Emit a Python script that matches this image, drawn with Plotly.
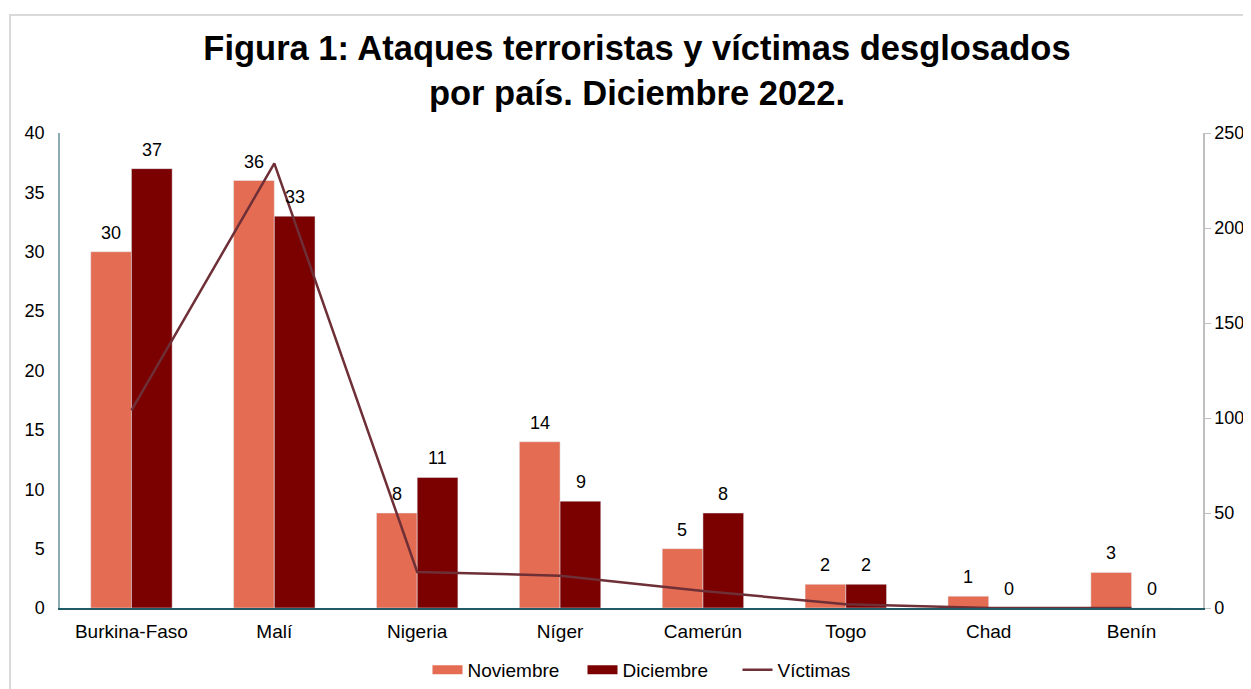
import plotly.graph_objects as go

paises = ["Burkina-Faso", "Malí", "Nigeria", "Níger", "Camerún", "Togo", "Chad", "Benín"]
noviembre = [30, 36, 8, 14, 5, 2, 1, 3]
diciembre = [37, 33, 11, 9, 8, 2, 0, 0]
victimas = [104, 234, 19, 17, 9, 2, 0, 0]

# page has an 8px body margin; figure size compensates
OFF = 8
W, H = 1251 - OFF, 689 - OFF
L, R, T, B = 60 - OFF, 48, 133 - OFF, 81
pw, ph = W - L - R, H - T - B

def px(x):
    return (x - OFF - L) / pw

def py(y):
    return (H - B - (y - OFF)) / ph

font = "Liberation Sans, Arial, sans-serif"
c_nov, c_dic, c_vic = "#E46C52", "#7B0000", "#6E2F36"

fig = go.Figure()
fig.add_trace(go.Bar(x=paises, y=noviembre, name="Noviembre", marker_color=c_nov,
                     showlegend=False))
fig.add_trace(go.Bar(x=paises, y=diciembre, name="Diciembre", marker_color=c_dic,
                     showlegend=False))
fig.add_trace(go.Scatter(x=paises, y=victimas, name="Víctimas", mode="lines", yaxis="y2",
                         line=dict(color=c_vic, width=2.5), cliponaxis=False,
                         showlegend=False))
# legend entries
for nm, col, wd in [("Noviembre", c_nov, 9), ("Diciembre", c_dic, 9), ("Víctimas", c_vic, 2.5)]:
    fig.add_trace(go.Scatter(x=[None], y=[None], name=nm, mode="lines",
                             line=dict(color=col, width=wd)))

annotations = []
for serie, dx in [(noviembre, -20.5), (diciembre, 20.5)]:
    for p, v in zip(paises, serie):
        annotations.append(dict(x=p, y=v, xref="x", yref="y", text=str(v), showarrow=False,
                                xshift=dx, yshift=7, yanchor="bottom",
                                font=dict(size=18, color="#000000")))

fig.update_layout(
    width=W, height=H,
    margin=dict(l=L, r=R, t=T, b=B, autoexpand=False),
    paper_bgcolor="white", plot_bgcolor="white",
    font=dict(family=font, size=18, color="#000000"),
    barmode="group", bargap=0.43, bargroupgap=0,
    title=dict(
        text="<b>Figura 1: Ataques terroristas y víctimas desglosados<br>por país. Diciembre 2022.</b>",
        x=px(637), xref="paper", xanchor="center",
        y=1 - (60 - OFF) / H, yref="container", yanchor="middle",
        font=dict(family=font, size=34.5, color="#000000"),
    ),
    xaxis=dict(
        showline=True, linecolor="#1F5C66", linewidth=2, ticks="",
        tickfont=dict(size=19), showgrid=False, ticklabelstandoff=5,
    ),
    yaxis=dict(
        range=[0, 40], dtick=5, showline=True, linecolor="#8FAAB4", linewidth=1.5,
        showgrid=False, zeroline=False, ticks="", tickfont=dict(size=18),
        ticklabelstandoff=10,
    ),
    yaxis2=dict(
        range=[0, 250], dtick=50, overlaying="y", side="right", showline=True,
        linecolor="#BFBFBF", linewidth=1.5, showgrid=False, zeroline=False,
        ticks="outside", ticklen=6, tickcolor="#BFBFBF", tickfont=dict(size=18),
    ),
    legend=dict(
        orientation="h", x=px(660), xanchor="center", y=py(670), yanchor="middle",
        font=dict(size=19), traceorder="normal", entrywidth=110, entrywidthmode="pixels",
    ),
    annotations=annotations,
    shapes=[dict(
        type="rect", xref="paper", yref="paper",
        x0=px(10), x1=px(1300), y0=py(740), y1=py(15),
        line=dict(color="#D9D9D9", width=2), fillcolor="rgba(0,0,0,0)", layer="below",
    )],
)

fig.write_html("out.html")
